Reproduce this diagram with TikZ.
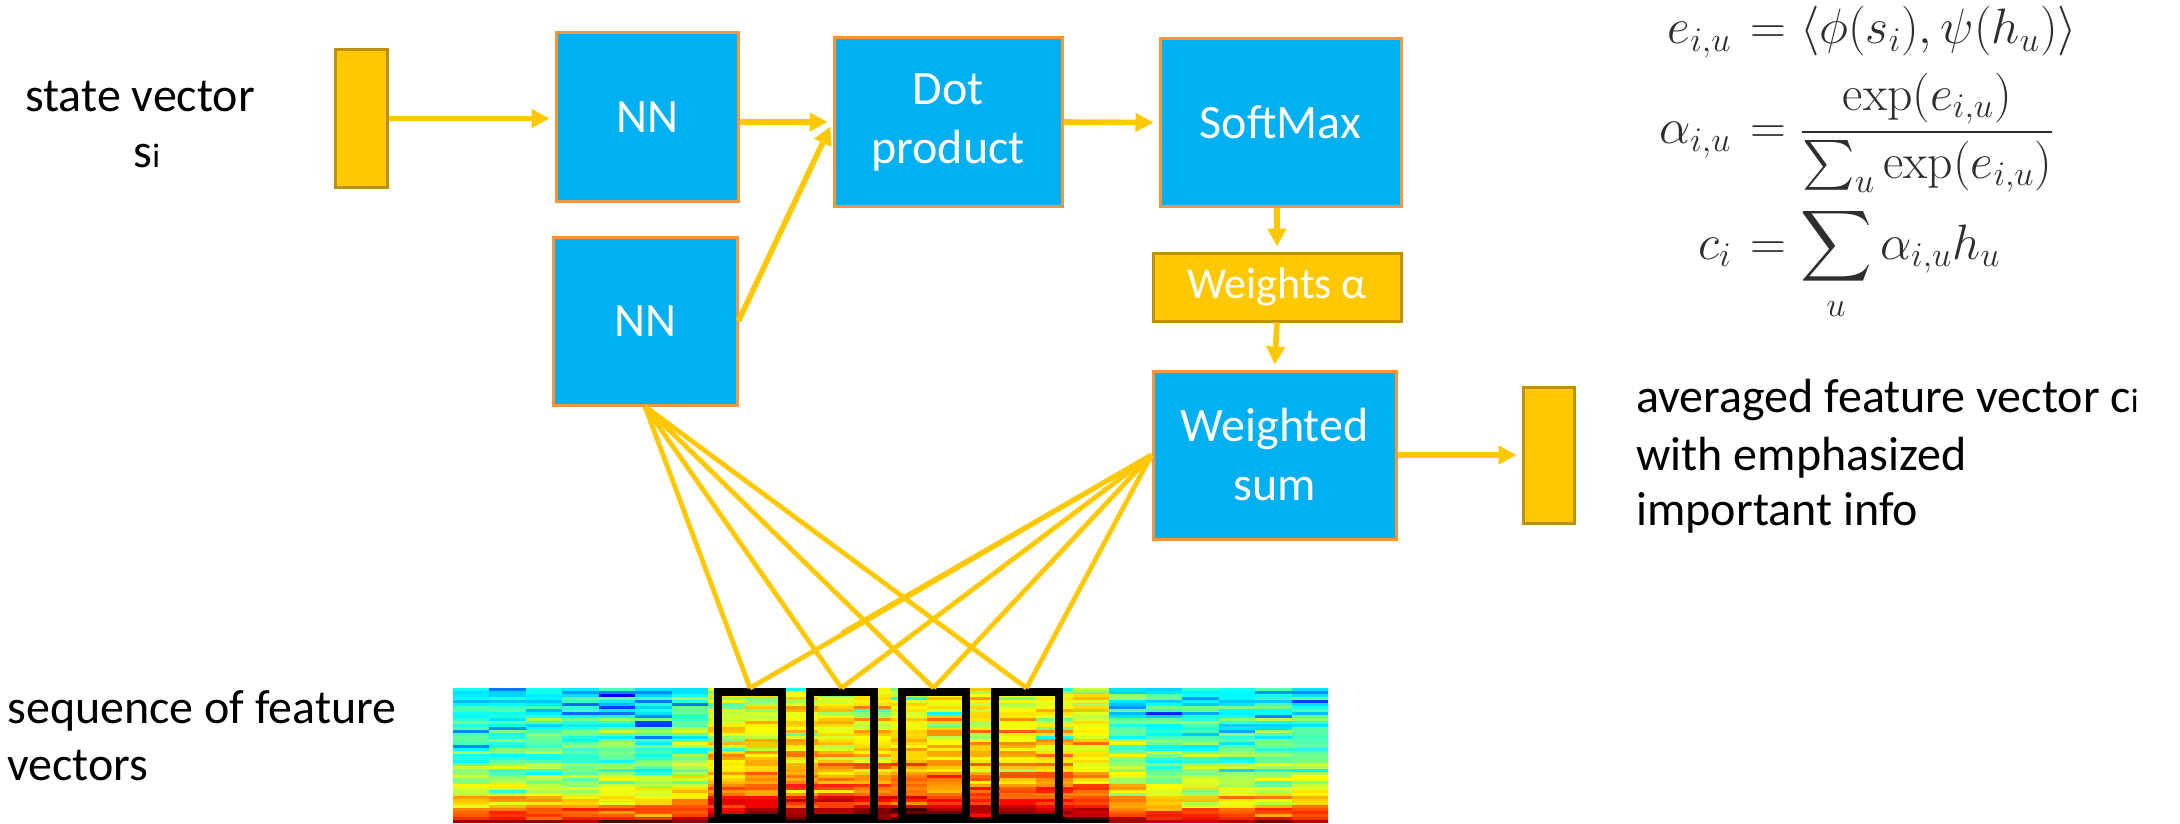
\documentclass[tikz,border=0pt]{standalone}
\usepackage[no-math]{fontspec}
\setmainfont{Carlito}
\usepackage{amsmath}
\usetikzlibrary{arrows.meta}

\definecolor{boxblue}{HTML}{00B0F0}
\definecolor{boxedge}{HTML}{F7963C}
\definecolor{gold}{HTML}{FFC800}
\definecolor{goldedge}{HTML}{BF9000}
\definecolor{link}{HTML}{FFC800}
\definecolor{eqink}{gray}{0.18}

\begin{document}
\begin{tikzpicture}[x=0.5pt,y=-0.5pt,
  blk/.style 2 args={minimum width=#1*0.5pt, minimum height=#2*0.5pt, inner sep=0pt},
  proc/.style={draw=boxedge, line width=1.5pt, fill=boxblue, text=white,
               font=\fontsize{24}{29.5}\selectfont, align=center},
  vecbar/.style={draw=goldedge, line width=1.5pt, fill=gold},
  wbox/.style={draw=goldedge, line width=1.5pt, fill=gold, text=white,
               font=\fontsize{22}{26}\selectfont},
  flow/.style={draw=link, line width=2.8pt, -{Triangle[length=9pt,width=9pt]}, shorten >=2.5pt},
  feed/.style={draw=link, line width=2.4pt},
  lbl/.style={font=\fontsize{24}{29}\selectfont, text=black, inner sep=0pt},
  eq/.style={font=\fontsize{24}{29}\selectfont, text=eqink, inner sep=0pt},
  slot/.style={draw=black, line width=4pt}
]
\useasboundingbox (0,0) rectangle (2180,824);
\fill[white] (0,0) rectangle (2180,824);

% ---- spectrogram-like feature sequence (24 frames x 45 bins) ----
\begin{scope}
\clip (453,688) rectangle (1328,823);
\pgfmathsetseed{11}
\foreach \c in {0,...,23}{
  \foreach \r in {0,...,44}{
    \pgfmathsetmacro\uu{(\c+0.5)/24}
    \pgfmathsetmacro\ww{(\r+0.5)/45}
    \pgfmathsetmacro\sa{max(0,min(1,(\uu-0.26)/0.06))}
    \pgfmathsetmacro\sb{max(0,min(1,(0.78-\uu)/0.06))}
    \pgfmathsetmacro\nz{rnd}
    \pgfmathsetmacro\dip{rnd<0.1}
    \pgfmathsetmacro\vv{0.37+0.2*\ww+0.38*\ww*\ww*\ww*\ww*\ww*\ww+0.24*\sa*\sb*(1-0.3*\ww)+0.05*sin(\r*263.7)+0.04*sin(\r*71.3+\c*37)+0.12*(\nz-0.5)-0.2*\dip*(1-\ww)}
    \pgfmathsetmacro\hr{max(0,min(1,1.5-abs(4*\vv-3)))}
    \pgfmathsetmacro\hg{max(0,min(1,1.5-abs(4*\vv-2)))}
    \pgfmathsetmacro\hb{max(0,min(1,1.5-abs(4*\vv-1)))}
    \definecolor{hm}{rgb}{\hr,\hg,\hb}
    \fill[hm] ({453+\c*36.458},{688+\r*3}) rectangle ({453+(\c+1)*36.458+0.8},{688+(\r+1)*3+0.4});
  }
}
\end{scope}

% ---- selected frames ----
\node[slot, blk={64}{126}] (h1) at (750,755) {};
\node[slot, blk={64}{126}] (h2) at (841.5,755) {};
\node[slot, blk={64}{126}] (h3) at (933.5,755) {};
\node[slot, blk={64}{126}] (h4) at (1026.5,755) {};

% ---- blocks ----
\node[vecbar, blk={52}{137}] (sv) at (361,118.5) {};
\node[proc, blk={182}{168}] (nn1) at (647,117) {NN};
\node[proc, blk={228}{168}] (dot) at (948,122) {Dot\\product};
\node[proc, blk={241}{167}] (soft) at (1280.5,122.5) {SoftMax};
\node[proc, blk={184}{168}] (nn2) at (645,321) {NN};
\node[wbox, blk={248}{68}] (wts) at (1277,287) {Weights α};
\node[proc, blk={243}{168}] (wsum) at (1274.5,455) {Weighted\\sum};
\node[vecbar, blk={51}{136}] (out) at (1548.5,455) {};

% ---- flow arrows ----
\draw[flow] (sv.east) -- (sv.east -| nn1.west);
\draw[flow] (dot.west -| nn1.east) -- (dot.west);
\draw[flow] (nn2.east) -- (dot.west);
\draw[flow] (dot.east) -- (soft.west);
\draw[flow] (wts.north |- soft.south) -- (wts.north);
\draw[flow] (wts.south) -- (wsum.north);
\draw[flow] (wsum.east) -- (out.west);

% ---- links to the frames ----
\foreach \h in {h1,h2,h3,h4}{
  \draw[feed] (nn2.south) -- (\h.north);
  \draw[feed] (wsum.west) -- (\h.north);
}
\coordinate (kink) at (842,633);
\draw[feed] (wsum.west) -- (kink);

% ---- labels ----
\node[lbl, anchor=base] (t1) at (140,112) {state vector};
\node[lbl, anchor=base] (t2) at (147,168) {s{\fontsize{17}{17}\selectfont i}};
\node[lbl, anchor=base west] (o1) at (1636,412) {averaged feature vector c{\fontsize{17}{17}\selectfont i}};
\node[lbl, anchor=base west] (o2) at (1636,470) {with emphasized};
\node[lbl, anchor=base west] (o3) at (1636,525) {important info};
\node[lbl, anchor=base west] (q1) at (7,723) {sequence of feature};
\node[lbl, anchor=base west] (q2) at (7,780) {vectors};

% ---- equations ----
\node[eq, anchor=base east] (e1l) at (1732,44) {$e_{i,u}$};
\node[eq, anchor=base west] (e1r) at (1750,44) {$=\langle\phi(s_i),\psi(h_u)\rangle$};
\node[eq, anchor=base east] (e2l) at (1732,144) {$\alpha_{i,u}$};
\node[eq, anchor=base west] (e2r) at (1750,144) {$=\dfrac{\exp(e_{i,u})}{\sum_u\exp(e_{i,u})}$};
\node[eq, anchor=base east] (e3l) at (1732,259) {$c_i$};
\node[eq, anchor=base west] (e3r) at (1750,259) {$\displaystyle=\sum_u\alpha_{i,u}h_u$};
\end{tikzpicture}
\end{document}
